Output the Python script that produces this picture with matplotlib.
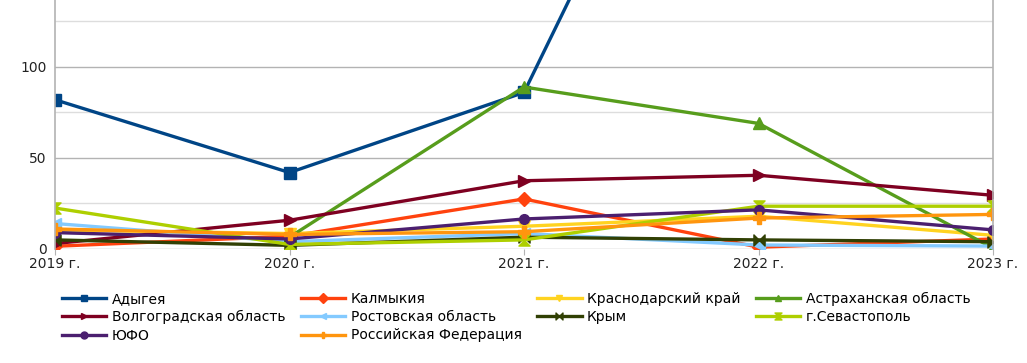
import matplotlib
matplotlib.use("Agg")
import matplotlib.pyplot as plt
from matplotlib.path import Path
from matplotlib.ticker import MultipleLocator
import numpy as np

years = ["2019 г.", "2020 г.", "2021 г.", "2022 г.", "2023 г."]

adygea = [82, 42, 86, 350, 300]
kalmykia = [1.5, 7, 27.5, 1, 5.5]
krasnodar = [10.5, 8.5, 12.5, 18, 7.5]
astrakhan = [np.nan, 6.5, 89, 69, 0.5]
volgograd = [3, 15.8, 37.5, 40.5, 29.5]
rostov = [14, 4, 8.5, 2.2, 1.6]
krym = [5, 2, 6.5, 5, 4]
sevastopol = [22.5, 2.5, 5, 23.5, 23.5]
yufo = [9, 5.5, 16.5, 21.5, 10.5]
rf = [11, 8, 9.5, 17, 19]

# custom markers for Крым / Севастополь
bowtie = Path([(-1, -1), (-1, 1), (1, -1), (1, 1), (-1, -1)],
              [Path.MOVETO, Path.LINETO, Path.LINETO, Path.LINETO, Path.CLOSEPOLY])
hourglass = Path([(-1, 1), (1, 1), (-1, -1), (1, -1), (-1, 1)],
                 [Path.MOVETO, Path.LINETO, Path.LINETO, Path.LINETO, Path.CLOSEPOLY])

series = [
    ("Адыгея", adygea, "#004586", "s"),
    ("Калмыкия", kalmykia, "#ff420e", "D"),
    ("Краснодарский край", krasnodar, "#ffd320", "v"),
    ("Астраханская область", astrakhan, "#579d1c", "^"),
    ("Волгоградская область", volgograd, "#7e0021", ">"),
    ("Ростовская область", rostov, "#83caff", "<"),
    ("Крым", krym, "#314004", bowtie),
    ("г.Севастополь", sevastopol, "#aecf00", hourglass),
    ("ЮФО", yufo, "#4b1f6f", "o"),
    ("Российская Федерация", rf, "#ff950e", "P"),
]

plt.rcParams["font.family"] = ["DejaVu Sans"]

fig = plt.figure(figsize=(10.27, 3.63), dpi=100)
ax = fig.add_axes([55 / 1027, 1 - 249 / 363, (993 - 55) / 1027, 249 / 363])

x = np.arange(len(years))
handles = {}
for name, vals, color, mk in series:
    ms = 7 if mk in ("D", "o") else 8
    h, = ax.plot(x, vals, color=color, linewidth=2.4, marker=mk,
                 markersize=ms, markeredgewidth=1, markeredgecolor=color,
                 label=name)
    handles[name] = h

ax.set_xlim(0, 4)
ax.set_ylim(0, 136.8)
ax.set_xticks(x)
ax.set_xticklabels(years)
ax.yaxis.set_major_locator(MultipleLocator(50))
ax.yaxis.set_minor_locator(MultipleLocator(25))
ax.grid(axis="y", which="major", color="#b3b3b3", linewidth=1)
ax.grid(axis="y", which="minor", color="#dddddd", linewidth=1)
ax.set_axisbelow(True)
ax.tick_params(axis="y", which="both", length=0, labelsize=10, colors="#222222", pad=6)
ax.tick_params(axis="x", length=4, color="#b3b3b3", labelsize=10, colors="#222222", pad=2)
for side in ("top", "bottom"):
    ax.spines[side].set_visible(False)
for side in ("left", "right"):
    ax.spines[side].set_color("#b3b3b3")
    ax.spines[side].set_linewidth(1.2)

# matplotlib fills legend columns first, so reorder to get the row layout
order = ["Адыгея", "Волгоградская область", "ЮФО",
         "Калмыкия", "Ростовская область", "Российская Федерация",
         "Краснодарский край", "Крым",
         "Астраханская область", "г.Севастополь"]
leg = fig.legend([handles[n] for n in order], order, ncol=4,
                 loc="upper left", bbox_to_anchor=(62 / 1027, 1 - 292 / 363),
                 frameon=False, fontsize=10, handlelength=3.2,
                 handletextpad=0.4, columnspacing=1.1, labelspacing=0.3,
                 borderaxespad=0, borderpad=0)
for h in leg.legend_handles:
    h.set_markersize(5)

fig.savefig("out.png", dpi=100)
